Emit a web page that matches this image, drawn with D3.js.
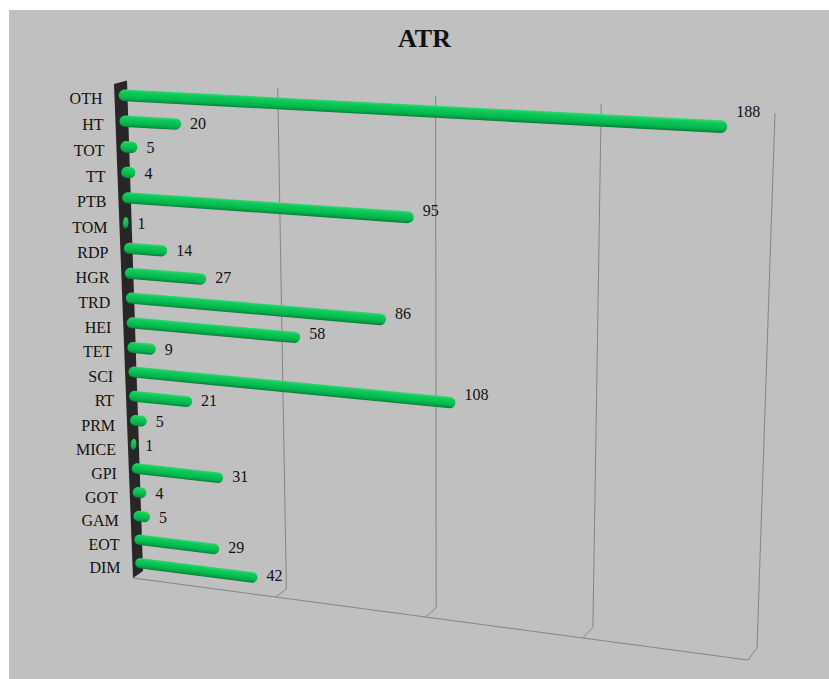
<!DOCTYPE html>
<html>
<head>
<meta charset="utf-8">
<script src="https://cdn.jsdelivr.net/npm/d3@7"></script>
<style>
  html, body { margin: 0; padding: 0; background: #ffffff; }
  svg { display: block; }
</style>
</head>
<body>
<svg id="chart" width="829" height="679"></svg>
<script>
// ---- data ----
const chartTitle = "ATR";
const categories = ["OTH","HT","TOT","TT","PTB","TOM","RDP","HGR","TRD","HEI","TET","SCI","RT","PRM","MICE","GPI","GOT","GAM","EOT","DIM"];
const values     = [188, 20, 5, 4, 95, 1, 14, 27, 86, 58, 9, 108, 21, 5, 1, 31, 4, 5, 29, 42];
const gridTicks  = [50, 100, 150, 200];
const valueMax   = 200;

// ---- layout of the perspective box ----
// screen corners of the back wall (z = 0) and of the front face (z = 1):
// [top-left, top-right, bottom-right, bottom-left]
const backQuad  = [[127, 80.4], [775, 113], [757, 648], [143, 571]];
const frontQuad = [[114, 84],   [766, 117], [748, 660], [133, 578]];
const barDepth = 0.5;        // bars sit half way between back and front
const barHalf = 0.225;       // half bar thickness, as share of a category band
const capLead = 2.5;         // rounded start cap reaches slightly past the wall

// unit square -> quadrilateral projective mapping
function homography(q) {
  const [x0, y0] = q[0], [x1, y1] = q[1], [x2, y2] = q[2], [x3, y3] = q[3];
  const dx1 = x1 - x2, dx2 = x3 - x2, dx3 = x0 - x1 + x2 - x3;
  const dy1 = y1 - y2, dy2 = y3 - y2, dy3 = y0 - y1 + y2 - y3;
  const den = dx1 * dy2 - dx2 * dy1;
  const g = (dx3 * dy2 - dx2 * dy3) / den;
  const h = (dx1 * dy3 - dx3 * dy1) / den;
  const a = x1 - x0 + g * x1, b = x3 - x0 + h * x3, c = x0;
  const d = y1 - y0 + g * y1, e = y3 - y0 + h * y3, f = y0;
  return (u, v) => {
    const w = g * u + h * v + 1;
    return [(a * u + b * v + c) / w, (d * u + e * v + f) / w];
  };
}
const backMap = homography(backQuad);
const frontMap = homography(frontQuad);

// u, v in [0,1]; z: 0 = back, 1 = front
function project(u, v, z) {
  const p = backMap(u, v), q = frontMap(u, v);
  return [p[0] + (q[0] - p[0]) * z, p[1] + (q[1] - p[1]) * z];
}

const xScale = d3.scaleLinear().domain([0, valueMax]).range([0, 1]);
const yScale = d3.scaleBand().domain(categories).range([0, 1]).padding(0);
const bw = yScale.bandwidth();

const svg = d3.select("#chart");

// chart area background
svg.append("rect")
  .attr("x", 9).attr("y", 10)
  .attr("width", 829 - 9).attr("height", 679 - 10)
  .attr("fill", "#c0c0c0");

const gridColor = "#858585";
const grid = svg.append("g").attr("stroke", gridColor).attr("stroke-width", 1).attr("fill", "none");

// vertical gridlines on the back wall, with their short run across the floor
gridTicks.forEach(t => {
  const u = xScale(t);
  const top = project(u, 0, 0), bot = project(u, 1, 0), front = project(u, 1, 1);
  grid.append("path").attr("d", `M${top[0]},${top[1]}L${bot[0]},${bot[1]}L${front[0]},${front[1]}`);
});
// front edge of the floor
{
  const a = project(0, 1, 1), b = project(1, 1, 1);
  grid.append("path").attr("d", `M${a[0]},${a[1]}L${b[0]},${b[1]}`);
}

// left wall seen edge-on
{
  const pts = [project(0, 0, 1), project(0, 0, 0), project(0, 1, 0), project(0, 1, 1)];
  svg.append("path")
    .attr("d", "M" + pts.map(p => p.join(",")).join("L") + "Z")
    .attr("fill", "#272727");
}

// bars
const defs = svg.append("defs");
const barsG = svg.append("g");
const rows = categories.map((c, i) => ({ cat: c, val: values[i], i }));

rows.forEach(r => {
  const vc = yScale(r.cat) + bw / 2;
  const u1 = xScale(r.val);
  const S = project(0, vc, barDepth), E = project(u1, vc, barDepth);
  let St = project(0, vc - barHalf * bw, barDepth), Sb = project(0, vc + barHalf * bw, barDepth);
  const Et = project(u1, vc - barHalf * bw, barDepth), Eb = project(u1, vc + barHalf * bw, barDepth);
  // direction along the bar (taken from the full row so tiny bars keep the slope)
  const Ef = project(1, vc, barDepth);
  const fx = Ef[0] - S[0], fy = Ef[1] - S[1], fl = Math.hypot(fx, fy);
  const ux = fx / fl, uy = fy / fl;
  // let the start cap poke slightly left of the wall line
  St = [St[0] - ux * capLead, St[1] - uy * capLead];
  Sb = [Sb[0] - ux * capLead, Sb[1] - uy * capLead];
  const L = Math.hypot(E[0] - S[0], E[1] - S[1]) + capLead;
  const rS = Math.hypot(St[0] - Sb[0], St[1] - Sb[1]) / 2;
  const rE = Math.hypot(Et[0] - Eb[0], Et[1] - Eb[1]) / 2;
  const rx = Math.min((rS + rE) / 2, L / 2);
  const ang = Math.atan2(uy, ux) * 180 / Math.PI;
  const off = (p, s) => [p[0] + ux * s, p[1] + uy * s];
  const a1 = off(St, rx), a2 = off(Et, -rx), a3 = off(Eb, -rx), a4 = off(Sb, rx);

  // shading runs across the bar, perpendicular to its axis
  const gid = "barGrad" + r.i;
  const mid = [(S[0] + E[0]) / 2, (S[1] + E[1]) / 2];
  const nx = -uy, ny = ux, rr = (rS + rE) / 2;
  const grad = defs.append("linearGradient").attr("id", gid)
    .attr("gradientUnits", "userSpaceOnUse")
    .attr("x1", mid[0] - nx * rr).attr("y1", mid[1] - ny * rr)
    .attr("x2", mid[0] + nx * rr).attr("y2", mid[1] + ny * rr);
  [[0, "#3ad675"], [0.2, "#12cb5c"], [0.6, "#02bd51"], [0.82, "#03a746"], [1, "#067a35"]].forEach(s =>
    grad.append("stop").attr("offset", s[0]).attr("stop-color", s[1]));

  const d = `M${a1[0]},${a1[1]}L${a2[0]},${a2[1]}` +
            `A${rx},${rE} ${ang} 0 1 ${a3[0]},${a3[1]}` +
            `L${a4[0]},${a4[1]}` +
            `A${rx},${rS} ${ang} 0 1 ${a1[0]},${a1[1]}Z`;
  barsG.append("path").attr("d", d).attr("fill", `url(#${gid})`);
  r.end = E;
});

// category labels, in front of the left wall
const font = "'Liberation Serif', 'Times New Roman', serif";
svg.append("g").selectAll("text").data(rows).join("text")
  .attr("x", d => project(0, yScale(d.cat) + bw / 2, 1)[0] - 12)
  .attr("y", d => project(0, yScale(d.cat) + bw / 2, 1)[1] + 1.5)
  .attr("dy", "0.35em")
  .attr("text-anchor", "end")
  .attr("font-family", font).attr("font-size", 16).attr("fill", "#111111")
  .text(d => d.cat);

// value labels past the end of each bar
svg.append("g").selectAll("text").data(rows).join("text")
  .attr("x", d => d.end[0] + 9)
  .attr("y", d => d.end[1] + 6 - 0.085 * d.val)
  .attr("font-family", font).attr("font-size", 16).attr("fill", "#111111")
  .text(d => d.val);

// title
svg.append("text")
  .attr("x", 424.5).attr("y", 47)
  .attr("text-anchor", "middle")
  .attr("font-family", font).attr("font-size", 26).attr("font-weight", "bold")
  .attr("fill", "#111")
  .text(chartTitle);
</script>
</body>
</html>
